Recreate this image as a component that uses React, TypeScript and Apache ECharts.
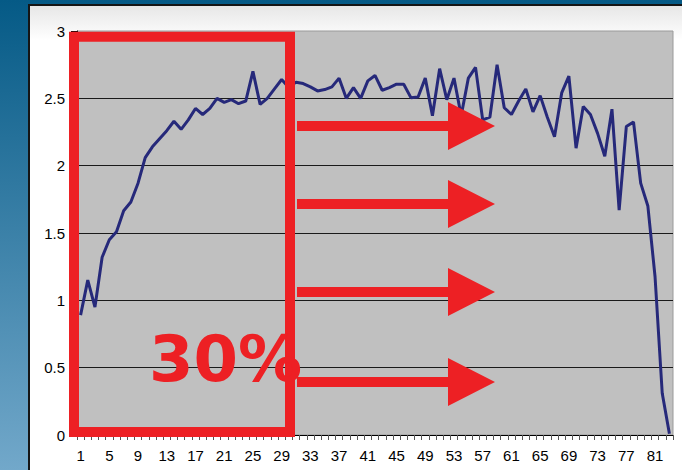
import React, { useEffect, useRef } from "react";
import * as echarts from "echarts";

const categories = [
  "1", "2", "3", "4", "5", "6", "7", "8", "9", "10",
  "11", "12", "13", "14", "15", "16", "17", "18", "19", "20",
  "21", "22", "23", "24", "25", "26", "27", "28", "29", "30",
  "31", "32", "33", "34", "35", "36", "37", "38", "39", "40",
  "41", "42", "43", "44", "45", "46", "47", "48", "49", "50",
  "51", "52", "53", "54", "55", "56", "57", "58", "59", "60",
  "61", "62", "63", "64", "65", "66", "67", "68", "69", "70",
  "71", "72", "73", "74", "75", "76", "77", "78", "79", "80",
  "81", "82", "83",
];

const values = [
  0.89, 1.15, 0.95, 1.32, 1.45, 1.51, 1.665, 1.73, 1.87, 2.06,
  2.14, 2.2, 2.26, 2.33, 2.27, 2.34, 2.425, 2.38, 2.425, 2.5,
  2.47, 2.49, 2.46, 2.48, 2.7, 2.455, 2.5, 2.57, 2.64, 2.58,
  2.62, 2.61, 2.585, 2.555, 2.565, 2.585, 2.65, 2.5, 2.58, 2.5,
  2.63, 2.67, 2.56, 2.58, 2.605, 2.605, 2.505, 2.51, 2.65, 2.37,
  2.72, 2.49, 2.65, 2.37, 2.65, 2.73, 2.34, 2.36, 2.75, 2.43,
  2.38, 2.48, 2.57, 2.4, 2.52, 2.36, 2.215, 2.54, 2.665, 2.13,
  2.44, 2.38, 2.24, 2.07, 2.42, 1.67, 2.29, 2.325, 1.87, 1.7,
  1.175, 0.31, 0.01,
];

const yMin = 0;
const yMax = 3;
const yStep = 0.5;
const calloutText = "30%";

const RED = "#ed2024";

function arrow(cy: number) {
  return {
    type: "polygon",
    z: 100,
    shape: {
      points: [
        [297, cy - 5],
        [448, cy - 5],
        [448, cy - 24],
        [495, cy],
        [448, cy + 24],
        [448, cy + 5],
        [297, cy + 5],
      ],
    },
    style: { fill: RED },
    silent: true,
  };
}

export default function App() {
  const ref = useRef<HTMLDivElement>(null);
  useEffect(() => {
    document.body.style.margin = "0";
    const chart = echarts.init(ref.current!, null, { renderer: "svg" });
    chart.setOption({
      animation: false,
      textStyle: { fontFamily: "Liberation Sans" },
      graphic: [
        {
          type: "rect",
          z: -20,
          shape: { x: 0, y: 0, width: 682, height: 470 },
          style: {
            fill: {
              type: "linear",
              x: 0, y: 0, x2: 0, y2: 1,
              colorStops: [
                { offset: 0, color: "#055a86" },
                { offset: 1, color: "#72a8ca" },
              ],
            },
          },
          silent: true,
        },
        {
          type: "rect",
          z: -19,
          shape: { x: 29, y: 5, width: 700, height: 500 },
          style: {
            fill: {
              type: "linear",
              x: 0, y: 0, x2: 0, y2: 1,
              colorStops: [
                { offset: 0, color: "#e6e6e6" },
                { offset: 0.07, color: "#ffffff" },
                { offset: 1, color: "#ffffff" },
              ],
            },
            stroke: "#151515",
            lineWidth: 2,
          },
          silent: true,
        },
        {
          type: "rect",
          z: 100,
          shape: { x: 74, y: 36.7, width: 216, height: 395.3 },
          style: { fill: "none", stroke: RED, lineWidth: 10 },
          silent: true,
        },
        arrow(126),
        arrow(204),
        arrow(292),
        arrow(382),
        {
          type: "text",
          z: 101,
          x: 149,
          y: 359,
          style: {
            text: calloutText,
            fill: RED,
            font: "bold 64px 'DejaVu Sans'",
            verticalAlign: "middle",
            align: "left",
          },
          silent: true,
        },
      ],
      grid: {
        left: 77,
        right: 9,
        top: 31,
        bottom: 35,
        show: true,
        backgroundColor: "#c0c0c0",
        borderColor: "#9a9a9a",
        borderWidth: 1,
      },
      xAxis: {
        type: "category",
        data: categories,
        boundaryGap: true,
        axisLine: { show: true, lineStyle: { color: "#000", width: 1 } },
        axisTick: {
          show: true,
          interval: 0,
          length: 5,
          lineStyle: { color: "#555" },
        },
        axisLabel: {
          interval: 3,
          margin: 13,
          fontSize: 15,
          color: "#000",
          fontFamily: "Liberation Sans",
        },
        splitLine: { show: false },
      },
      yAxis: {
        type: "value",
        min: yMin,
        max: yMax,
        interval: yStep,
        axisLine: { show: true, lineStyle: { color: "#000", width: 1 } },
        axisTick: { show: true, length: 6, lineStyle: { color: "#000" } },
        axisLabel: {
          margin: 12,
          fontSize: 15,
          color: "#000",
          fontFamily: "Liberation Sans",
        },
        splitLine: {
          show: true,
          showMaxLine: false,
          lineStyle: { color: "#1a1a1a", width: 1 },
        },
      },
      series: [
        {
          type: "line",
          data: values,
          showSymbol: false,
          symbol: "none",
          lineStyle: { color: "#26297a", width: 3 },
          z: 5,
        },
      ],
    });
    return () => chart.dispose();
  }, []);
  return <div ref={ref} style={{ width: 682, height: 470 }} />;
}
